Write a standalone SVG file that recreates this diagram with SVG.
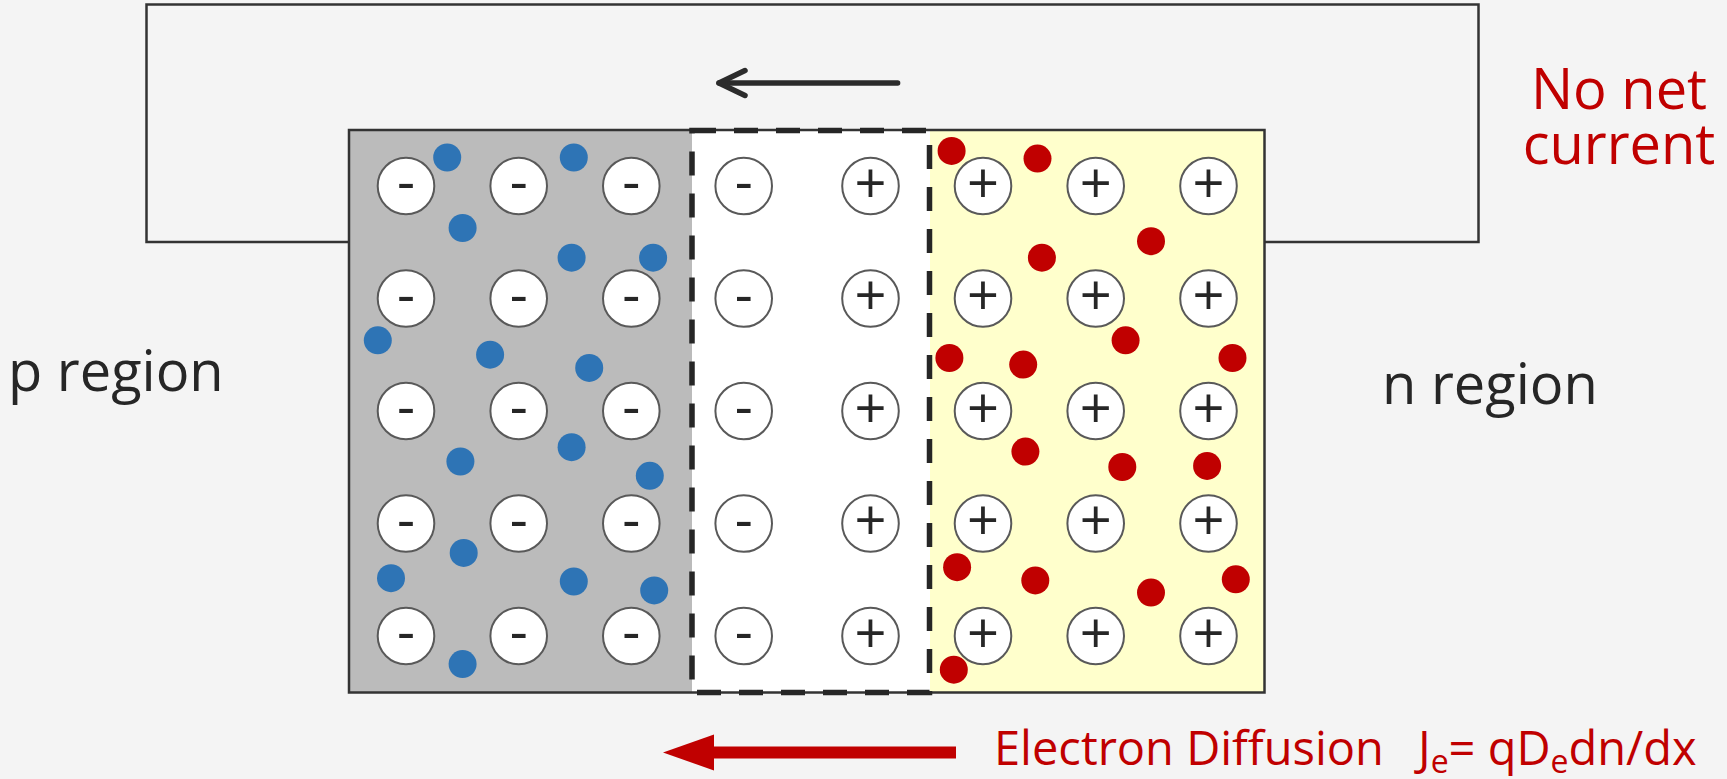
<svg xmlns="http://www.w3.org/2000/svg" width="1727" height="779" viewBox="0 0 1727 779">
<style>
.txt{font-family:"Open Sans","Liberation Sans",sans-serif;font-size:56px;fill:#262626}
.red{fill:#c00000}
.small{font-size:47px}
.sub{font-size:32px}
.ion{fill:#ffffff;stroke:#595959;stroke-width:2}
.sgn{font-family:"Open Sans","Liberation Sans",sans-serif;font-size:56px;fill:#262626;text-anchor:middle}
.e{fill:#2e74b5}
.h{fill:#c00000}
.wire{fill:none;stroke:#333333;stroke-width:2.5}
</style>
<defs>
<marker id="openHead" markerUnits="userSpaceOnUse" viewBox="-32 -18 38 36" refX="0" refY="0" markerWidth="38" markerHeight="36" orient="auto">
<path d="M-26,-12.5 L0,0 L-26,12.5" fill="none" stroke="#2b2b2b" stroke-width="5.5" stroke-linecap="round" stroke-linejoin="round"/>
</marker>
<marker id="redHead" markerUnits="userSpaceOnUse" viewBox="0 -19 52 38" refX="2" refY="0" markerWidth="52" markerHeight="38" orient="auto">
<path d="M0,-18 L51,0 L0,18 Z" fill="#c00000"/>
</marker>
</defs>
<rect x="0" y="0" width="1727" height="779" fill="#f4f4f4"/>

<g id="circuit-wire">
<polyline class="wire" points="349,242 146.5,242 146.5,4.5 1478.5,4.5 1478.5,242 1264.5,242"/>
</g>

<g id="p-region-block">
<rect x="349" y="130" width="343" height="562.5" fill="#bbbbbb"/>
</g>
<g id="depletion-block">
<rect x="692" y="130" width="238" height="562.5" fill="#ffffff"/>
</g>
<g id="n-region-block">
<rect x="930" y="130" width="334.5" height="562.5" fill="#ffffcc"/>
</g>
<g id="device-outline">
<rect x="349" y="130" width="915.5" height="562.5" fill="none" stroke="#333333" stroke-width="2.5"/>
</g>
<g id="depletion-boundary">
<rect x="692" y="130.5" width="237.5" height="562" fill="none" stroke="#262626" stroke-width="5.5" stroke-dasharray="24 18"/>
</g>

<g id="acceptor-ions">
<circle class="ion" cx="406" cy="186" r="28.3"/><circle class="ion" cx="518.7" cy="186" r="28.3"/><circle class="ion" cx="631.3" cy="186" r="28.3"/><circle class="ion" cx="743.7" cy="186" r="28.3"/>
<circle class="ion" cx="406" cy="298.5" r="28.3"/><circle class="ion" cx="518.7" cy="298.5" r="28.3"/><circle class="ion" cx="631.3" cy="298.5" r="28.3"/><circle class="ion" cx="743.7" cy="298.5" r="28.3"/>
<circle class="ion" cx="406" cy="411" r="28.3"/><circle class="ion" cx="518.7" cy="411" r="28.3"/><circle class="ion" cx="631.3" cy="411" r="28.3"/><circle class="ion" cx="743.7" cy="411" r="28.3"/>
<circle class="ion" cx="406" cy="523.5" r="28.3"/><circle class="ion" cx="518.7" cy="523.5" r="28.3"/><circle class="ion" cx="631.3" cy="523.5" r="28.3"/><circle class="ion" cx="743.7" cy="523.5" r="28.3"/>
<circle class="ion" cx="406" cy="636" r="28.3"/><circle class="ion" cx="518.7" cy="636" r="28.3"/><circle class="ion" cx="631.3" cy="636" r="28.3"/><circle class="ion" cx="743.7" cy="636" r="28.3"/>
<text class="sgn" x="406" y="201">-</text><text class="sgn" x="518.7" y="201">-</text><text class="sgn" x="631.3" y="201">-</text><text class="sgn" x="743.7" y="201">-</text>
<text class="sgn" x="406" y="313.5">-</text><text class="sgn" x="518.7" y="313.5">-</text><text class="sgn" x="631.3" y="313.5">-</text><text class="sgn" x="743.7" y="313.5">-</text>
<text class="sgn" x="406" y="426">-</text><text class="sgn" x="518.7" y="426">-</text><text class="sgn" x="631.3" y="426">-</text><text class="sgn" x="743.7" y="426">-</text>
<text class="sgn" x="406" y="538.5">-</text><text class="sgn" x="518.7" y="538.5">-</text><text class="sgn" x="631.3" y="538.5">-</text><text class="sgn" x="743.7" y="538.5">-</text>
<text class="sgn" x="406" y="651">-</text><text class="sgn" x="518.7" y="651">-</text><text class="sgn" x="631.3" y="651">-</text><text class="sgn" x="743.7" y="651">-</text>
</g>

<g id="donor-ions">
<circle class="ion" cx="870.5" cy="186" r="28.3"/><circle class="ion" cx="983" cy="186" r="28.3"/><circle class="ion" cx="1095.7" cy="186" r="28.3"/><circle class="ion" cx="1208.5" cy="186" r="28.3"/>
<circle class="ion" cx="870.5" cy="298.5" r="28.3"/><circle class="ion" cx="983" cy="298.5" r="28.3"/><circle class="ion" cx="1095.7" cy="298.5" r="28.3"/><circle class="ion" cx="1208.5" cy="298.5" r="28.3"/>
<circle class="ion" cx="870.5" cy="411" r="28.3"/><circle class="ion" cx="983" cy="411" r="28.3"/><circle class="ion" cx="1095.7" cy="411" r="28.3"/><circle class="ion" cx="1208.5" cy="411" r="28.3"/>
<circle class="ion" cx="870.5" cy="523.5" r="28.3"/><circle class="ion" cx="983" cy="523.5" r="28.3"/><circle class="ion" cx="1095.7" cy="523.5" r="28.3"/><circle class="ion" cx="1208.5" cy="523.5" r="28.3"/>
<circle class="ion" cx="870.5" cy="636" r="28.3"/><circle class="ion" cx="983" cy="636" r="28.3"/><circle class="ion" cx="1095.7" cy="636" r="28.3"/><circle class="ion" cx="1208.5" cy="636" r="28.3"/>
<text class="sgn" x="870.5" y="202.5">+</text><text class="sgn" x="983" y="202.5">+</text><text class="sgn" x="1095.7" y="202.5">+</text><text class="sgn" x="1208.5" y="202.5">+</text>
<text class="sgn" x="870.5" y="315">+</text><text class="sgn" x="983" y="315">+</text><text class="sgn" x="1095.7" y="315">+</text><text class="sgn" x="1208.5" y="315">+</text>
<text class="sgn" x="870.5" y="427.5">+</text><text class="sgn" x="983" y="427.5">+</text><text class="sgn" x="1095.7" y="427.5">+</text><text class="sgn" x="1208.5" y="427.5">+</text>
<text class="sgn" x="870.5" y="540">+</text><text class="sgn" x="983" y="540">+</text><text class="sgn" x="1095.7" y="540">+</text><text class="sgn" x="1208.5" y="540">+</text>
<text class="sgn" x="870.5" y="652.5">+</text><text class="sgn" x="983" y="652.5">+</text><text class="sgn" x="1095.7" y="652.5">+</text><text class="sgn" x="1208.5" y="652.5">+</text>
</g>

<g id="holes-p-side">
<circle class="e" cx="447.2" cy="157.5" r="14"/><circle class="e" cx="573.8" cy="157.5" r="14"/><circle class="e" cx="462.6" cy="228" r="14"/><circle class="e" cx="571.6" cy="257.7" r="14"/>
<circle class="e" cx="653.1" cy="257.7" r="14"/><circle class="e" cx="377.8" cy="340.3" r="14"/><circle class="e" cx="490.1" cy="354.7" r="14"/><circle class="e" cx="589.2" cy="367.9" r="14"/>
<circle class="e" cx="460.4" cy="461.5" r="14"/><circle class="e" cx="571.6" cy="447.2" r="14"/><circle class="e" cx="649.8" cy="475.8" r="14"/><circle class="e" cx="463.7" cy="552.9" r="14"/>
<circle class="e" cx="391" cy="578.2" r="14"/><circle class="e" cx="573.8" cy="581.5" r="14"/><circle class="e" cx="654.2" cy="590.4" r="14"/><circle class="e" cx="462.6" cy="664.1" r="14"/>
</g>

<g id="electrons-n-side">
<circle class="h" cx="951.6" cy="150.9" r="14"/><circle class="h" cx="1037.5" cy="158.6" r="14"/><circle class="h" cx="1151" cy="241.2" r="14"/><circle class="h" cx="1041.9" cy="257.7" r="14"/>
<circle class="h" cx="1125.6" cy="340.3" r="14"/><circle class="h" cx="949.4" cy="358" r="14"/><circle class="h" cx="1023.2" cy="364.6" r="14"/><circle class="h" cx="1232.5" cy="358" r="14"/>
<circle class="h" cx="1025.4" cy="451.6" r="14"/><circle class="h" cx="1122.3" cy="467" r="14"/><circle class="h" cx="1207.1" cy="465.9" r="14"/><circle class="h" cx="957.1" cy="567.2" r="14"/>
<circle class="h" cx="1035.3" cy="580.4" r="14"/><circle class="h" cx="1151" cy="592.6" r="14"/><circle class="h" cx="1235.8" cy="579.3" r="14"/><circle class="h" cx="953.8" cy="669.7" r="14"/>
</g>

<g id="connectors">
<line x1="897.6" y1="83" x2="719" y2="83" stroke="#2b2b2b" stroke-width="5.5" stroke-linecap="round" marker-end="url(#openHead)"/>
<line x1="956" y1="752.5" x2="712" y2="752.5" stroke="#c00000" stroke-width="12" marker-end="url(#redHead)"/>
</g>

<g id="labels">
<text class="txt" x="8" y="391">p region</text>
<text class="txt" x="1382" y="404">n region</text>
<text class="txt red" x="1619" y="109" text-anchor="middle">No net</text>
<text class="txt red" x="1619" y="164" text-anchor="middle">current</text>
<text class="txt red small" x="994" y="765">Electron Diffusion</text>
<text class="txt red small" x="1418" y="765">J<tspan class="sub" dy="8">e</tspan><tspan dy="-8">= qD</tspan><tspan class="sub" dy="8">e</tspan><tspan dy="-8">dn/dx</tspan></text>
</g>
</svg>
